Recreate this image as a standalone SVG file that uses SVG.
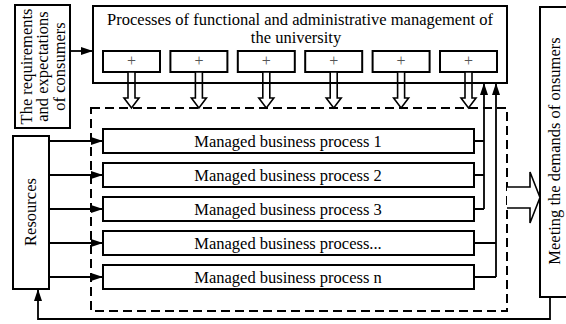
<svg xmlns="http://www.w3.org/2000/svg" width="566" height="324" viewBox="0 0 566 324">
<defs>
<marker id="ah" markerWidth="12" markerHeight="8" refX="12" refY="4" orient="auto" markerUnits="userSpaceOnUse"><path d="M0,0 L12,4 L0,8 Z" fill="#000"/></marker>
</defs>
<style>
.box{fill:#fff;stroke:#000;stroke-width:2}
.frame{fill:none;stroke:#000;stroke-width:2}
.dash{fill:none;stroke:#000;stroke-width:2;stroke-dasharray:9 5}
.t{font-family:"Liberation Serif","Times New Roman",serif;font-size:16.5px;fill:#000}
.m{text-anchor:middle}
.c{fill:none;stroke:#000;stroke-width:1.8}
.h{fill:#fff;stroke:#000;stroke-width:1.6}
.plus{font-family:"Liberation Serif","Times New Roman",serif;font-size:16px;fill:#555;text-anchor:middle}
</style>
<rect width="566" height="324" fill="#fff"/>

<g id="requirements">
<rect class="box" x="15" y="5" width="55" height="123"/>
<text class="t m" transform="translate(31.5,66.5) rotate(-90)">The requirements</text>
<text class="t m" transform="translate(48,66.5) rotate(-90)">and expectations</text>
<text class="t m" transform="translate(65,66.5) rotate(-90)">of consumers</text>
</g>

<g id="resources">
<rect class="box" x="13" y="136" width="36" height="153"/>
<text class="t m" transform="translate(36,212) rotate(-90)">Resources</text>
</g>

<g id="meeting">
<rect class="box" x="540" y="7" width="40" height="290"/>
<text class="t m" transform="translate(560,151) rotate(-90)">Meeting the demands of onsumers</text>
</g>

<g id="management">
<rect x="93" y="6" width="414" height="77" fill="#fff"/>
<text class="t m" x="300" y="25">Processes of functional and administrative management of</text>
<text class="t m" x="296" y="43">the university</text>
<g id="sub1"><rect class="box" x="103" y="51" width="57" height="21"/><text class="plus" x="131.5" y="66">+</text></g>
<g id="sub2"><rect class="box" x="170.4" y="51" width="57" height="21"/><text class="plus" x="198.9" y="66">+</text></g>
<g id="sub3"><rect class="box" x="237.8" y="51" width="57" height="21"/><text class="plus" x="266.3" y="66">+</text></g>
<g id="sub4"><rect class="box" x="305.2" y="51" width="57" height="21"/><text class="plus" x="333.7" y="66">+</text></g>
<g id="sub5"><rect class="box" x="372.6" y="51" width="57" height="21"/><text class="plus" x="401.1" y="66">+</text></g>
<g id="sub6"><rect class="box" x="440" y="51" width="57" height="21"/><text class="plus" x="468.5" y="66">+</text></g>
</g>

<g id="managed-area">
<rect class="dash" x="91" y="108" width="416" height="203"/>
</g>

<g id="bp1"><rect class="box" x="103" y="129" width="371" height="24"/><text class="t m" x="288" y="146.5">Managed business process 1</text></g>
<g id="bp2"><rect class="box" x="103" y="163" width="371" height="24"/><text class="t m" x="288" y="180.5">Managed business process 2</text></g>
<g id="bp3"><rect class="box" x="103" y="197" width="371" height="24"/><text class="t m" x="288" y="214.5">Managed business process 3</text></g>
<g id="bp4"><rect class="box" x="103" y="231" width="371" height="24"/><text class="t m" x="288" y="248.5">Managed business process...</text></g>
<g id="bp5"><rect class="box" x="103" y="265" width="371" height="24"/><text class="t m" x="288" y="282.5">Managed business process n</text></g>

<g id="connectors">
<path class="h" d="M128,72 H135 V98 H139 L131.5,108 L124,98 H128 Z"/>
<path class="h" d="M195.4,72 H202.4 V98 H206.4 L198.9,108 L191.4,98 H195.4 Z"/>
<path class="h" d="M262.8,72 H269.8 V98 H273.8 L266.3,108 L258.8,98 H262.8 Z"/>
<path class="h" d="M330.2,72 H337.2 V98 H341.2 L333.7,108 L326.2,98 H330.2 Z"/>
<path class="h" d="M397.6,72 H404.6 V98 H408.6 L401.1,108 L393.6,98 H397.6 Z"/>
<path class="h" d="M465,72 H472 V98 H476 L468.5,108 L461,98 H465 Z"/>
<rect class="frame" x="93" y="6" width="414" height="77"/>
<line class="c" x1="70" y1="51" x2="93" y2="51" marker-end="url(#ah)"/>
<line class="c" x1="49" y1="141" x2="103" y2="141" marker-end="url(#ah)"/>
<line class="c" x1="49" y1="175" x2="103" y2="175" marker-end="url(#ah)"/>
<line class="c" x1="49" y1="209" x2="103" y2="209" marker-end="url(#ah)"/>
<line class="c" x1="49" y1="243" x2="103" y2="243" marker-end="url(#ah)"/>
<line class="c" x1="49" y1="277" x2="103" y2="277" marker-end="url(#ah)"/>
<path class="c" d="M474,141 H484 M474,175 H484 M474,209 H484"/>
<line class="c" x1="484" y1="209" x2="484" y2="83" marker-end="url(#ah)"/>
<path class="c" d="M474,243 H496 M474,277 H496"/>
<line class="c" x1="496" y1="277" x2="496" y2="83" marker-end="url(#ah)"/>
<path class="h" d="M507,187 H530 V172 L540,197.5 L530,223 V208 H507"/>
<polyline class="c" points="550,297 550,319 38,319 38,289" marker-end="url(#ah)"/>
</g>
</svg>
